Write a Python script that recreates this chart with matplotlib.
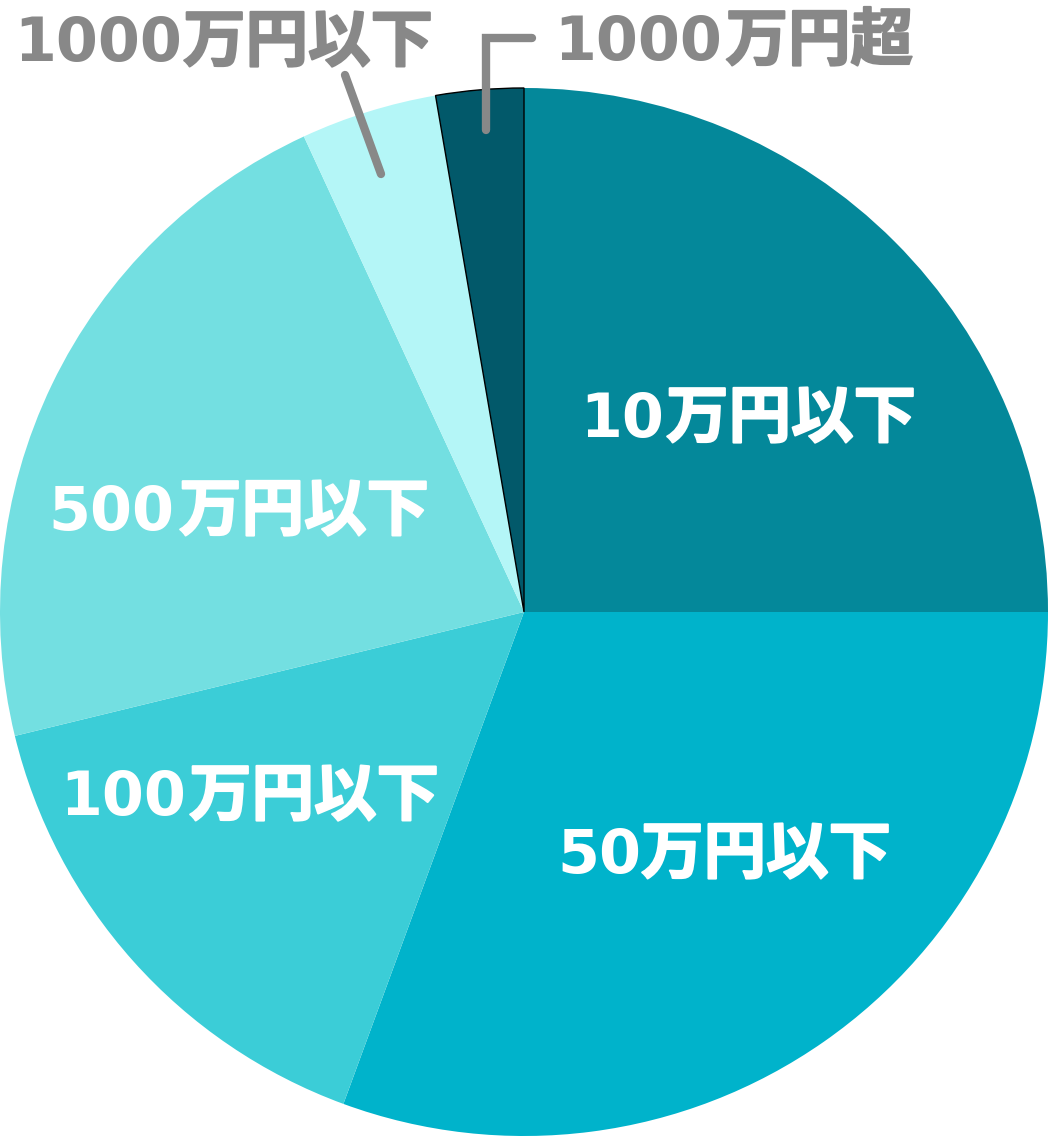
import matplotlib
matplotlib.use("Agg")
import matplotlib.pyplot as plt
import matplotlib.patheffects as pe

plt.rcParams['font.family'] = ['DejaVu Sans', 'Noto Sans CJK JP']

labels = ['10万円以下', '50万円以下', '100万円以下', '500万円以下', '1000万円以下', '1000万円超']
shares = [25.0, 30.6, 15.6, 21.9, 4.2, 2.7]
colors = ['#04889A', '#00B3CB', '#3BCDD7', '#73DFE1', '#B4F6F7', '#02596A']

H = 1136
fig = plt.figure(figsize=(10.48, 11.36), dpi=100)
ax = fig.add_axes([0, 0, 1, 1])

wedges, _ = ax.pie(shares, colors=colors, startangle=90, counterclock=False,
                   center=(524, 524), radius=524, frame=True)
ax.set_xlim(0, 1048)
ax.set_ylim(0, H)
ax.set_aspect('equal')
ax.axis('off')
wedges[5].set_edgecolor('black')
wedges[5].set_linewidth(1)


def label(text, x_left, x_right, baseline, color):
    # digits in DejaVu Sans Bold, the kanji part in Noto CJK thickened a bit
    n = len(text) - len(text.lstrip('0123456789'))
    ax.text(x_left, H - baseline, text[:n], color=color, fontsize=43.5,
            fontweight='bold', family='DejaVu Sans', ha='left', va='baseline')
    ax.text(x_right, H - baseline, text[n:], color=color, fontsize=45,
            fontweight='bold', family='Noto Sans CJK JP', ha='right', va='baseline',
            path_effects=[pe.withStroke(linewidth=1.5, foreground=color)])


# pixel positions (left of digits, right of last char, baseline) from the top
grey = '#888888'
label(labels[0], 580, 916, 437, 'white')
label(labels[1], 557, 891, 873, 'white')
label(labels[2], 60, 439, 815, 'white')
label(labels[3], 48, 429, 530, 'white')
label(labels[4], 14, 433, 61, grey)
label(labels[5], 554, 913, 60, grey)

ax.plot([345, 381], [H - 75, H - 174], color=grey, lw=6, solid_capstyle='round')
ax.plot([486, 486, 532], [H - 130, H - 38, H - 38], color=grey, lw=6,
        solid_capstyle='round', solid_joinstyle='miter')

fig.savefig('out.png', dpi=100)
